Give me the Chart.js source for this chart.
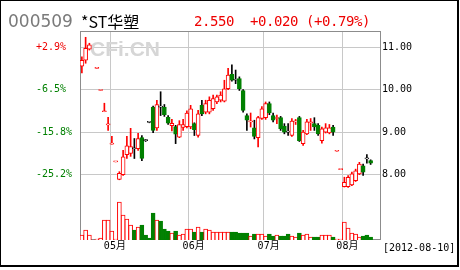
<!DOCTYPE html>
<html>
<head>
<meta charset="utf-8">
<script src="https://cdn.jsdelivr.net/npm/chart.js@4.4.1/dist/chart.umd.min.js"></script>
<style>
  html, body { margin: 0; padding: 0; background: #fff; }
  #wrap { position: relative; width: 460px; height: 270px; overflow: hidden; }
  #kline { position: absolute; left: 0; top: 0; }
  #frame { position: absolute; left: 0; top: 0; width: 456px; height: 264px; border: 1px solid #000; border-right-width: 2px; border-bottom-width: 2px; }
  .t { position: absolute; white-space: pre; line-height: 1; }
  #code { left: 8px; top: 11px; font: 17px 'DejaVu Sans'; color: #7a7a7a; }
  #name { left: 81px; top: 9px; font: 16px 'Noto Sans CJK SC'; color: #000; }
  #quote { left: 194px; top: 13px; font: 14px 'DejaVu Sans Mono'; letter-spacing: -0.43px; color: #e00; }
  #date { left: 383px; top: 242px; font: 10px 'DejaVu Sans Mono'; color: #000; }
</style>
</head>
<body>
<div id="wrap">
  <canvas id="kline" width="460" height="270"></canvas>
  <div id="frame"></div>
  <div class="t" id="code">000509</div>
  <div class="t" id="name">*ST华塑</div>
  <div class="t" id="quote">2.550  +0.020 (+0.79%)</div>
  <div class="t" id="date">[2012-08-10]</div>
</div>
<script>
// daily K line, 2012-04 .. 2012-08-10 (index 3 = no trading)
const opens = [10.55, 10.69, 10.95, null, 10.50, 9.98, 9.48, 9.17, 8.72, 8.30,
  7.89, 8.00, 8.47, 8.50, 8.61, 8.61, 8.87, 8.80, 9.23, 9.59,
  9.10, 9.59, 9.59, 9.35, 9.15, 9.13, 8.88, 9.11, 9.13, 9.12,
  9.20, 8.92, 9.63, 9.47, 9.47, 9.55, 9.71, 9.75, 9.73, 10.02,
  10.36, 10.22, 10.26, 9.98, 9.39, 9.24, 9.10, 8.87, 9.32, 9.34,
  9.67, 9.39, 9.32, 9.34, 9.14, 9.00, 8.92, 9.24, 9.34, 8.73,
  8.96, 9.22, 9.20, 9.16, 8.80, 9.00, 8.98, 9.12, 8.55, 8.12,
  7.72, 7.72, 7.76, 7.86, 8.02, 8.21, 8.37, 8.33];
const highs = [10.77, 11.23, 11.09, null, 10.50, 9.98, 9.68, 9.35, 8.90, 8.30,
  8.07, 8.57, 8.90, 9.09, 8.85, 8.97, 8.92, 8.83, 9.24, 9.61,
  9.75, 9.95, 9.65, 9.39, 9.30, 9.16, 9.27, 9.30, 9.50, 9.63,
  9.22, 9.51, 9.75, 9.75, 9.83, 9.87, 9.87, 9.95, 10.22, 10.50,
  10.58, 10.46, 10.30, 10.00, 9.43, 9.45, 9.28, 9.37, 9.60, 9.71,
  9.71, 9.45, 9.40, 9.37, 9.20, 9.20, 9.32, 9.30, 9.37, 9.04,
  9.30, 9.32, 9.34, 9.20, 9.12, 9.20, 9.18, 9.16, 8.55, 8.12,
  7.94, 7.98, 8.06, 8.13, 8.29, 8.25, 8.47, 8.35];
const lows = [10.39, 10.62, 10.93, null, 10.50, 9.98, 9.48, 9.04, 8.72, 8.30,
  7.88, 7.98, 8.38, 8.43, 8.38, 8.57, 8.33, 8.78, 9.22, 8.99,
  9.04, 9.39, 9.37, 9.18, 9.03, 8.73, 8.87, 9.04, 9.10, 9.08,
  8.92, 8.88, 9.39, 9.43, 9.43, 9.51, 9.67, 9.71, 9.71, 10.00,
  10.20, 10.14, 9.98, 9.47, 9.04, 9.12, 8.84, 8.65, 9.30, 9.30,
  9.41, 9.24, 9.20, 9.04, 8.96, 8.92, 8.90, 9.18, 8.78, 8.69,
  8.94, 9.04, 9.04, 8.92, 8.74, 8.98, 8.96, 8.92, 8.55, 8.12,
  7.71, 7.70, 7.74, 7.84, 8.00, 7.98, 8.27, 8.24];
const closes = [10.69, 10.97, 11.05, null, 10.50, 9.98, 9.485, 9.175, 8.725, 8.30,
  8.03, 8.42, 8.68, 8.66, 8.61, 8.85, 8.38, 8.80, 9.23, 9.04,
  9.65, 9.59, 9.41, 9.21, 9.21, 8.95, 9.18, 9.18, 9.45, 9.55,
  9.06, 9.43, 9.43, 9.67, 9.75, 9.79, 9.83, 9.87, 10.02, 10.34,
  10.22, 10.22, 10.02, 9.51, 9.28, 9.245, 8.90, 9.34, 9.55, 9.67,
  9.45, 9.28, 9.325, 9.08, 9.00, 9.00, 9.26, 9.245, 8.80, 9.00,
  9.24, 9.225, 9.12, 8.96, 9.08, 9.10, 9.10, 9.00, 8.55, 8.12,
  7.82, 7.94, 8.02, 8.09, 8.25, 8.06, 8.37, 8.27];
const volumes = [5, 10, 5, null, 1, 2, 20, 20, 9, 1,
  38, 25, 21, 15, 10, 13, 15, 5, 2, 27,
  20, 19, 11, 9, 7, 9, 5, 6, 11, 11,
  8, 13, 8, 11, 10, 8, 8, 8, 8, 8,
  8, 8, 7, 7, 7, 4, 6, 6, 6, 4,
  6, 4, 5, 4, 4, 6, 4, 3, 7, 5,
  6, 3, 3, 3, 5, 5, 5, 3, 1, 1,
  18, 12, 7, 6, 3, 4, 5, 3];

const priceTicks = [11, 10, 9, 8];
const pctLabels = ['+2.9%', '-6.5%', '-15.8%', '-25.2%'];
const monthStarts = [8, 29, 49, 70];
const monthLabels = ['05月', '06月', '07月', '08月'];

const SLOTS = 80;
const RED = '#f00';
const GREEN = '#008000';
const GRID = '#c8c8c8';
const FONT = { family: "'DejaVu Sans Mono', 'Noto Sans CJK SC', monospace", size: 10 };

// 1 = up (red), -1 = down (green), 0 = doji (black)
function kind(i) {
    const o = opens[i], c = closes[i];
    if (o == null) return 0;
    if (c > o || (c === o && highs[i] === lows[i])) return 1;
    if (c < o) return -1;
    return 0;
}

const labels = Array.from({ length: SLOTS }, (_, i) => i);
const bodies = opens.map((o, i) => o == null ? null : [o, closes[i]]);
const wicks = opens.map((o, i) => o == null ? null : [lows[i], highs[i]]);

const boxPlugin = {
    id: 'box',
    beforeDatasetsDraw(chart) {
        const { ctx, chartArea: a } = chart;
        ctx.save();
        ctx.font = 'bold 21px "Liberation Sans"';
        ctx.fillStyle = '#d6d6d6';
        ctx.fillText('CFi.CN', 90, 56);
        ctx.strokeStyle = '#8c8c8c';
        ctx.lineWidth = 1;
        ctx.strokeRect(a.left + 0.5, a.top + 0.5, a.right - a.left, a.bottom - a.top - 1);
        ctx.restore();
    }
};

new Chart(document.getElementById('kline'), {
    type: 'bar',
    data: {
        labels: labels,
        datasets: [
            {
                data: bodies,
                yAxisID: 'y',
                order: 0,
                grouped: false,
                barThickness: 4,
                minBarLength: 1,
                borderWidth: 1,
                borderSkipped: false,
                backgroundColor: c => kind(c.dataIndex) === -1 ? GREEN : '#fff',
                borderColor: c => {
                    const k = kind(c.dataIndex);
                    return k === 1 ? RED : (k === -1 ? GREEN : '#000');
                }
            },
            {
                data: wicks,
                yAxisID: 'y',
                order: 1,
                grouped: false,
                barThickness: 1,
                borderWidth: 0,
                backgroundColor: c => kind(c.dataIndex) === 1 ? RED : '#000'
            },
            {
                data: volumes,
                yAxisID: 'yv',
                order: 2,
                grouped: false,
                barThickness: 4,
                borderWidth: 1,
                borderSkipped: 'bottom',
                backgroundColor: c => kind(c.dataIndex) === 1 ? '#fff' : GREEN,
                borderColor: c => kind(c.dataIndex) === 1 ? RED : GREEN
            }
        ]
    },
    options: {
        responsive: false,
        animation: false,
        devicePixelRatio: 1,
        layout: { padding: { top: 31, left: 36, right: 0, bottom: 0 } },
        plugins: { legend: { display: false }, tooltip: { enabled: false } },
        scales: {
            x: {
                offset: true,
                border: { display: false },
                grid: {
                    offset: true,
                    drawTicks: false,
                    color: c => monthStarts.includes(c.index) ? GRID : 'rgba(0,0,0,0)'
                },
                ticks: {
                    autoSkip: false,
                    maxRotation: 0,
                    padding: 0,
                    labelOffset: 3,
                    font: FONT,
                    color: '#000',
                    callback: (v, i) => {
                        const k = monthStarts.indexOf(i);
                        return k < 0 ? '' : monthLabels[k];
                    }
                },
                afterFit: s => { s.height = 30; }
            },
            y: {
                position: 'right',
                min: 6.464,
                max: 11.378,
                border: { display: false },
                grid: { color: GRID, drawTicks: false },
                afterBuildTicks: s => { s.ticks = priceTicks.map(v => ({ value: v })); },
                ticks: { padding: 2, font: FONT, color: '#000', callback: v => v.toFixed(2) },
                afterFit: s => { s.width = 80; }
            },
            yp: {
                position: 'left',
                min: 6.464,
                max: 11.378,
                border: { display: false },
                grid: { display: false, drawTicks: false },
                afterBuildTicks: s => { s.ticks = priceTicks.map(v => ({ value: v })); },
                ticks: {
                    crossAlign: 'far',
                    font: FONT,
                    color: c => c.tick.value === priceTicks[0] ? '#e00' : GREEN,
                    callback: v => pctLabels[priceTicks.indexOf(v)]
                },
                afterFit: s => { s.width = 44; }
            },
            yv: { display: false, min: 0, max: 209 }
        }
    },
    plugins: [boxPlugin]
});
</script>
</body>
</html>
